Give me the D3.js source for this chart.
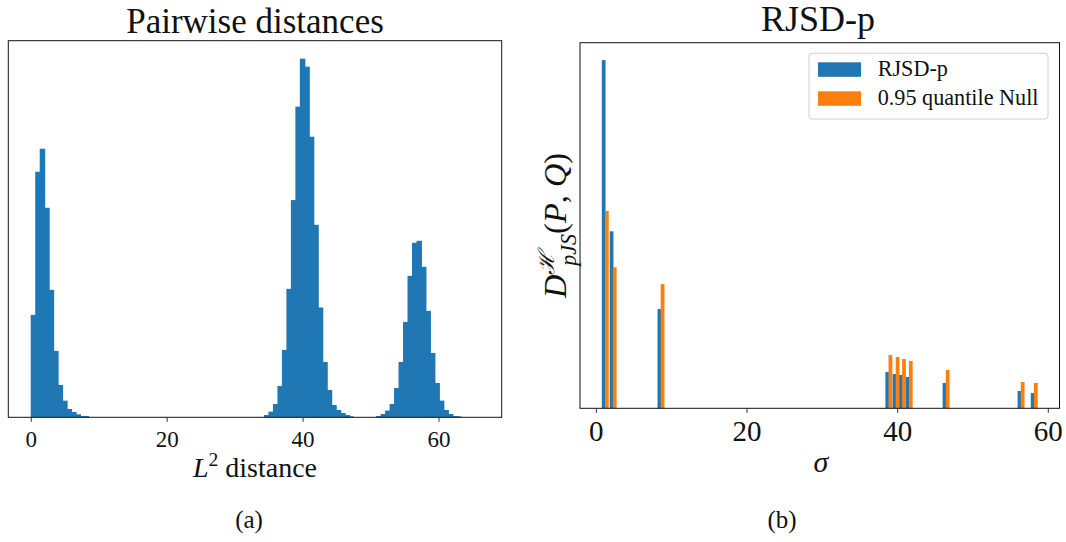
<!DOCTYPE html>
<html>
<head>
<meta charset="utf-8">
<script src="https://cdn.jsdelivr.net/npm/d3@7"></script>
<style>
  body { margin: 0; background: #fff; }
  svg { display: block; }
  text { font-family: "Liberation Serif", "DejaVu Serif", serif; fill: #111; }
  .frame { fill: none; stroke: #111; stroke-width: 1; }
  .tick line { stroke: #333; }
</style>
</head>
<body>
<div id="chart"></div>
<script>
//////////////////////////////////////////////////////////////
//////////////////////////// Data ////////////////////////////
//////////////////////////////////////////////////////////////

// (a) histogram of pairwise L2 distances: 100 bins from 0 to 66
const binStart = 0
const binEnd = 66
const binCounts = [
  1023, 2453, 2683, 2093, 1273, 663, 323, 166, 83, 53, 30, 13, 13,
  0, 0, 0, 0, 0, 0, 0, 0, 0, 0, 0, 0, 0, 0, 0, 0, 0, 0, 0, 0, 0,
  0, 0, 0, 0, 0, 0, 0, 0, 0, 0, 0, 0, 0, 0, 0, 0, 0, 0,
  23, 57, 133, 313, 673, 1283, 2170, 3103, 3583, 3503, 2803, 1923, 1097, 553, 273, 123, 73, 43, 23, 10,
  0, 0, 0, 0, 0,
  13, 33, 67, 133, 293, 553, 953, 1413, 1743, 1763, 1503, 1063, 643, 343, 167, 73, 33, 13, 10,
  0, 0, 0, 0
]
const histTicks = [0, 20, 40, 60]

// (b) RJSD-p per bandwidth sigma
const sigmas = [1.25, 2.3, 8.65, 38.9, 39.85, 40.7, 41.6, 46.5, 56.45, 58.2]
const rjsdValues = [0.600, 0.305, 0.171, 0.0625, 0.0591, 0.0574, 0.0539, 0.0436, 0.0298, 0.0264]
const nullQuantile = [0.340, 0.243, 0.214, 0.0918, 0.0884, 0.0849, 0.0815, 0.0660, 0.0453, 0.0436]
const seriesNames = ["RJSD-p", "0.95 quantile Null"]
const sigmaTicks = [0, 20, 40, 60]

//////////////////////////////////////////////////////////////
/////////////////////// Constants ////////////////////////////
//////////////////////////////////////////////////////////////

const blue = "#1f77b4"
const orange = "#ff7f0e"
const barWidth = 0.5
const barOffset = 0.21

const panelA = { left: 8.3, right: 501.7, top: 40.7, bottom: 417.3 }
const panelB = { left: 580, right: 1059.5, top: 42.7, bottom: 408.3 }

const svg = d3.select("#chart").append("svg")
    .attr("width", 1066)
    .attr("height", 542)

//scale the font so the text gets a given width
function fitText(sel, targetWidth) {
  const size = parseFloat(sel.style("font-size"))
  const w = sel.node().getComputedTextLength()
  sel.style("font-size", (size * targetWidth / w) + "px")
  return sel
}

function padDomain(lo, hi) {
  const pad = (hi - lo) * 0.05
  return [lo - pad, hi + pad]
}

//////////////////////////////////////////////////////////////
/////////////////// (a) Pairwise distances ///////////////////
//////////////////////////////////////////////////////////////

const binSize = (binEnd - binStart) / binCounts.length
const bins = binCounts.map((c, i) => ({ x0: binStart + i * binSize, x1: binStart + (i + 1) * binSize, count: c }))

const xA = d3.scaleLinear()
    .domain(padDomain(binStart, binEnd))
    .range([panelA.left, panelA.right])

const yA = d3.scaleLinear()
    .domain([0, d3.max(binCounts) * 1.05])
    .range([panelA.bottom, panelA.top])

const gA = svg.append("g").attr("class", "panel-a")

//bars overlap by 1px so no light seams show between neighbouring bins
gA.selectAll(".bin")
    .data(bins.filter(d => d.count > 0))
    .enter().append("rect")
    .attr("class", "bin")
    .attr("x", d => xA(d.x0))
    .attr("width", d => {
      const next = bins[Math.round((d.x1 - binStart) / binSize)]
      return xA(d.x1) - xA(d.x0) + (next && next.count > 0 ? 1 : 0)
    })
    .attr("y", d => yA(d.count))
    .attr("height", d => yA(0) - yA(d.count))
    .style("fill", blue)

gA.append("rect")
    .attr("class", "frame")
    .attr("x", panelA.left)
    .attr("y", panelA.top)
    .attr("width", panelA.right - panelA.left)
    .attr("height", panelA.bottom - panelA.top)

const axisA = gA.append("g")
    .attr("transform", "translate(0," + panelA.bottom + ")")
    .call(d3.axisBottom(xA).tickValues(histTicks).tickSize(4.5).tickFormat(d3.format("d")))
axisA.select(".domain").remove()
axisA.selectAll("text")
    .attr("dy", null)
    .attr("y", 29.5)
    .style("font-size", "23px")
    .style("font-family", "'Liberation Serif', serif")
    .style("fill", "#111")

gA.append("text")
    .attr("x", 255)
    .attr("y", 33.3)
    .attr("text-anchor", "middle")
    .style("font-size", "35px")
    .text("Pairwise distances")

const xlabA = gA.append("text")
    .attr("x", 255)
    .attr("y", 477)
    .attr("text-anchor", "middle")
    .style("font-size", "28px")
xlabA.append("tspan").style("font-style", "italic").text("L")
xlabA.append("tspan").attr("dy", -11).style("font-size", "0.7em").text("2")
xlabA.append("tspan").attr("dy", 11).text(" distance")

gA.append("text")
    .attr("x", 249)
    .attr("y", 528)
    .attr("text-anchor", "middle")
    .style("font-size", "25px")
    .text("(a)")

//////////////////////////////////////////////////////////////
////////////////////////// (b) RJSD-p ////////////////////////
//////////////////////////////////////////////////////////////

const xB = d3.scaleLinear()
    .domain(padDomain(d3.min(sigmas) - barOffset - barWidth / 2, d3.max(sigmas) + barOffset + barWidth / 2))
    .range([panelB.left, panelB.right])

const yB = d3.scaleLinear()
    .domain([0, d3.max(rjsdValues.concat(nullQuantile)) * 1.05])
    .range([panelB.bottom, panelB.top])

const gB = svg.append("g").attr("class", "panel-b")

const series = [
  { name: seriesNames[0], values: rjsdValues, shift: -barOffset, color: blue },
  { name: seriesNames[1], values: nullQuantile, shift: barOffset, color: orange }
]

series.forEach(s => {
  gB.selectAll(".bar-" + s.color.slice(1))
      .data(sigmas.map((sg, i) => ({ sigma: sg, value: s.values[i] })))
      .enter().append("rect")
      .attr("x", d => xB(d.sigma + s.shift - barWidth / 2))
      .attr("width", xB(barWidth) - xB(0))
      .attr("y", d => yB(d.value))
      .attr("height", d => yB(0) - yB(d.value))
      .style("fill", s.color)
})

gB.append("rect")
    .attr("class", "frame")
    .attr("x", panelB.left)
    .attr("y", panelB.top)
    .attr("width", panelB.right - panelB.left)
    .attr("height", panelB.bottom - panelB.top)

const axisB = gB.append("g")
    .attr("transform", "translate(0," + panelB.bottom + ")")
    .call(d3.axisBottom(xB).tickValues(sigmaTicks).tickSize(4.5).tickFormat(d3.format("d")))
axisB.select(".domain").remove()
axisB.selectAll("text")
    .attr("dy", null)
    .attr("y", 32.5)
    .style("font-size", "29px")
    .style("font-family", "'Liberation Serif', serif")
    .style("fill", "#111")

gB.append("text")
    .attr("x", 818)
    .attr("y", 31)
    .attr("text-anchor", "middle")
    .style("font-size", "36px")
    .text("RJSD-p")

gB.append("text")
    .attr("x", 821)
    .attr("y", 472)
    .attr("text-anchor", "middle")
    .style("font-size", "30px")
    .style("font-style", "italic")
    .text("σ")

gB.append("text")
    .attr("x", 782)
    .attr("y", 528)
    .attr("text-anchor", "middle")
    .style("font-size", "25px")
    .text("(b)")

//y label D^H_pJS(P, Q)
const ylabB = gB.append("text")
    .attr("transform", "translate(" + 566 + "," + 225.5 + ") rotate(-90)")
    .attr("text-anchor", "middle")
    .style("font-size", "30px")
ylabB.append("tspan").style("font-style", "italic").text("D")
ylabB.append("tspan").attr("dy", -12).style("font-size", "0.68em").style("font-style", "italic")
    .style("font-family", "'DejaVu Serif', serif").text("ℋ")
ylabB.append("tspan").attr("dy", 22).attr("dx", -14).style("font-size", "0.68em").style("font-style", "italic").text("pJS")
ylabB.append("tspan").attr("dy", -10).text("(")
ylabB.append("tspan").style("font-style", "italic").text("P")
ylabB.append("tspan").text(", ")
ylabB.append("tspan").style("font-style", "italic").text("Q")
ylabB.append("tspan").text(")")
fitText(ylabB, 160)

//legend
const legend = gB.append("g").attr("class", "legend")
legend.append("rect")
    .attr("x", 809)
    .attr("y", 53.3)
    .attr("width", 239)
    .attr("height", 65.7)
    .attr("rx", 3)
    .style("fill", "#fff")
    .style("fill-opacity", 0.8)
    .style("stroke", "#d0d0d0")

series.forEach((s, i) => {
  legend.append("rect")
      .attr("x", 818)
      .attr("y", 62.3 + i * 29)
      .attr("width", 43)
      .attr("height", 14.5)
      .style("fill", s.color)
  legend.append("text")
      .attr("x", 877.7)
      .attr("y", 76 + i * 29)
      .style("font-size", "20px")
      .text(s.name)
})
fitText(legend.selectAll("text").filter((d, i) => i === 1), 161)
legend.selectAll("text").filter((d, i) => i === 0)
    .style("font-size", legend.selectAll("text").filter((d, i) => i === 1).style("font-size"))
</script>
</body>
</html>
